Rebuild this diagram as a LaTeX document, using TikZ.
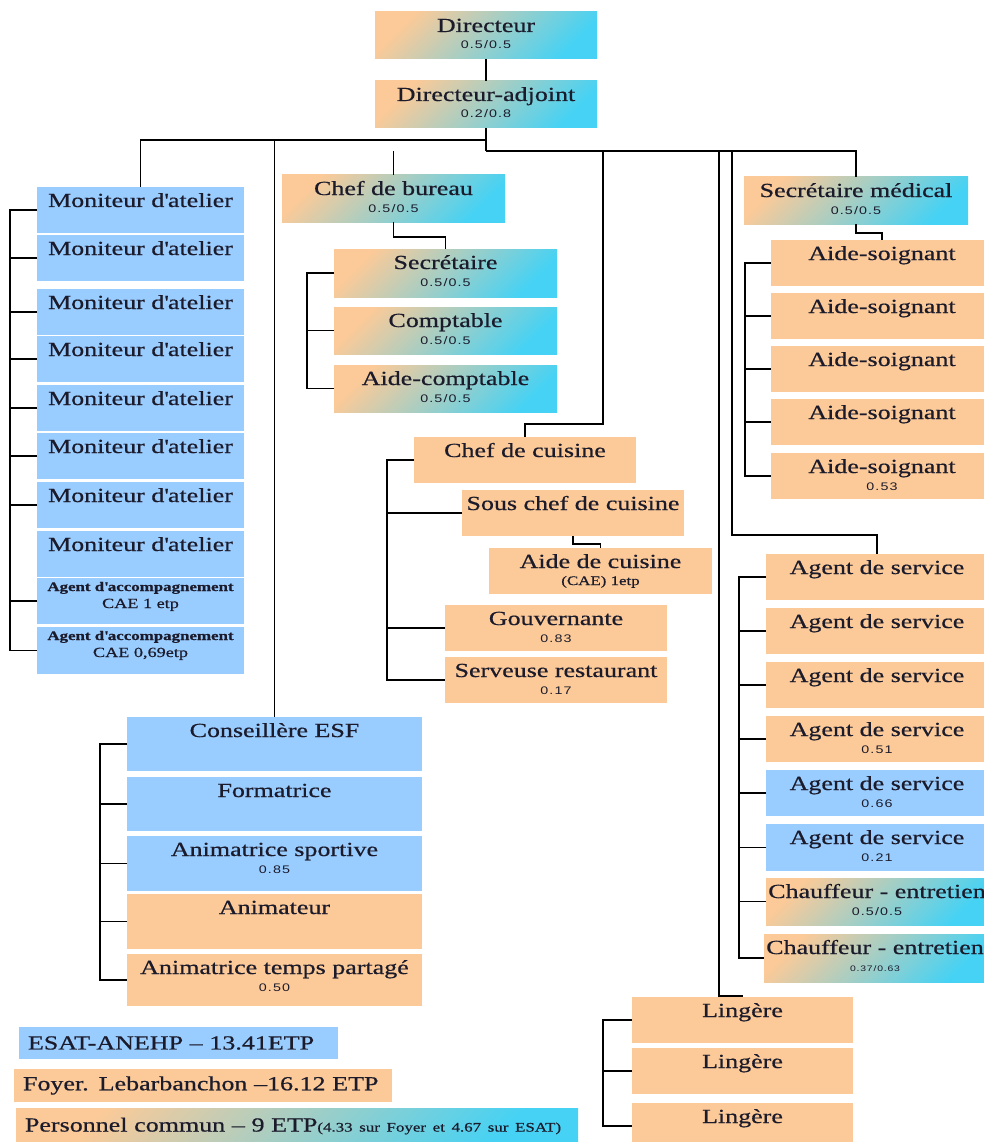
\documentclass[tikz,border=0pt]{standalone}
\usepackage{fontspec}
\setmainfont{Liberation Serif}[FakeStretch=1.3,FakeBold=0.6]
\newfontfamily\chiffres{Liberation Sans}[FakeStretch=1.3,LetterSpace=10]

\definecolor{bleuclair}{HTML}{99CCFF}
\definecolor{peche}{HTML}{FCCA98}
\definecolor{cyanvif}{HTML}{46D2F4}
\definecolor{encre}{HTML}{1B1B2B}

% une case de l'organigramme : style, nom, coin haut-gauche, largeur, hauteur, titre, quotite
\newcommand{\poste}[7]{%
    \node[poste,#1,minimum width=#4,minimum height=#5] (#2) at (#3) {};
    \node[titre] (#2-t) at ([yshift=-20pt]#2.north) {#6};
    \if\relax\detokenize{#7}\relax\else
        \node[chiffre] (#2-n) at ([yshift=-37pt]#2.north) {#7};
    \fi
}

\begin{document}
\begin{tikzpicture}[x=1pt,y=-1pt,
    poste/.style={anchor=north west,inner sep=0pt,outer sep=0pt},
    cbleu/.style={fill=bleuclair},
    cpeche/.style={fill=peche},
    cdegrade/.style={top color=peche,bottom color=cyanvif,shading angle=45},
    titre/.style={anchor=base,inner sep=0pt,text=encre,font=\fontsize{20}{22}\selectfont},
    chiffre/.style={anchor=base,inner sep=0pt,text=encre,font=\chiffres\fontsize{11}{13}\selectfont},
    legende/.style={anchor=north west,inner xsep=9pt,inner ysep=0pt,outer sep=0pt,align=left,
        text=encre,font=\fontsize{20}{22}\selectfont},
    trait/.style={draw=black,line width=1.2pt}]
    \useasboundingbox (0,0) rectangle (984,1142);

    % direction
    \poste{cdegrade}{dir}{375,12}{222}{47}{Directeur}{0.5/0.5}
    \poste{cdegrade}{adj}{375,81}{222}{47}{Directeur-adjoint}{0.2/0.8}

    % ateliers
    \foreach \i/\y in {1/187,2/235,3/289,4/336,5/385,6/433,7/482,8/531}{
        \poste{cbleu}{m\i}{37,\y}{207}{46}{Moniteur d\textquotesingle atelier}{}
    }
    \node[poste,cbleu,minimum width=207,minimum height=46] (acc1) at (37,578) {};
    \node[titre,font=\bfseries\fontsize{13}{15}\selectfont] (acc1-t) at ([yshift=-13pt]acc1.north) {Agent d\textquotesingle accompagnement};
    \node[titre,font=\fontsize{14}{16}\selectfont] (acc1-n) at ([yshift=-30pt]acc1.north) {CAE 1 etp};
    \node[poste,cbleu,minimum width=207,minimum height=47] (acc2) at (37,627) {};
    \node[titre,font=\bfseries\fontsize{13}{15}\selectfont] (acc2-t) at ([yshift=-13pt]acc2.north) {Agent d\textquotesingle accompagnement};
    \node[titre,font=\fontsize{14}{16}\selectfont] (acc2-n) at ([yshift=-30pt]acc2.north) {CAE 0,69etp};

    % bureau
    \poste{cdegrade}{bur}{282,175}{223}{47}{Chef de bureau}{0.5/0.5}
    \poste{cdegrade}{secr}{334,249}{223}{48}{Secrétaire}{0.5/0.5}
    \poste{cdegrade}{compt}{334,307}{223}{47}{Comptable}{0.5/0.5}
    \poste{cdegrade}{aidec}{334,365}{223}{47}{Aide-comptable}{0.5/0.5}

    % cuisine
    \poste{cpeche}{cuis}{414,437}{222}{46}{Chef de cuisine}{}
    \poste{cpeche}{scuis}{462,490}{222}{46}{Sous chef de cuisine}{}
    \poste{cpeche}{acuis}{489,548}{223}{46}{Aide de cuisine}{\normalfont\fontsize{13}{15}\selectfont (CAE) 1etp}
    \poste{cpeche}{gouv}{445,605}{222}{46}{Gouvernante}{0.83}
    \poste{cpeche}{serv}{445,657}{222}{46}{Serveuse restaurant}{0.17}

    % medical
    \poste{cdegrade}{med}{744,177}{224}{47}{Secrétaire médical}{0.5/0.5}
    \foreach \i/\y in {1/240,2/293,3/346,4/399}{
        \poste{cpeche}{soin\i}{771,\y}{222}{46}{Aide-soignant}{}
    }
    \poste{cpeche}{soin5}{771,453}{222}{46}{Aide-soignant}{0.53}

    % services
    \foreach \i/\y in {1/554,2/608,3/662}{
        \poste{cpeche}{agt\i}{766,\y}{222}{46}{Agent de service}{}
    }
    \poste{cpeche}{agt4}{766,716}{222}{46}{Agent de service}{0.51}
    \poste{cbleu}{agt5}{766,770}{222}{46}{Agent de service}{0.66}
    \poste{cbleu}{agt6}{766,824}{222}{47}{Agent de service}{0.21}
    \poste{cdegrade}{chauf1}{766,878}{222}{47}{Chauffeur - entretien}{0.5/0.5}
    \poste{cdegrade}{chauf2}{764,934}{222}{48}{Chauffeur - entretien}{\fontsize{8}{10}\selectfont 0.37/0.63}

    % lingerie
    \foreach \i/\y in {1/997,2/1048,3/1103}{
        \poste{cpeche}{ling\i}{632,\y}{221}{46}{Lingère}{}
    }

    % animation
    \poste{cbleu}{cesf}{127,717}{295}{54}{Conseillère ESF}{}
    \poste{cbleu}{form}{127,777}{295}{54}{Formatrice}{}
    \poste{cbleu}{anims}{127,836}{295}{55}{Animatrice sportive}{0.85}
    \poste{cpeche}{anim}{127,894}{295}{55}{Animateur}{}
    \poste{cpeche}{animtp}{127,954}{295}{52}{Animatrice temps partagé}{0.50}

    % legende
    \node[legende,cbleu,text width=301,minimum height=32] (lg-esat) at (19,1027) {ESAT-ANEHP -- 13.41ETP};
    \node[legende,cpeche,text width=360,minimum height=33] (lg-foyer) at (14,1069) {Foyer. Lebarbanchon --16.12 ETP};
    \node[legende,cdegrade,text width=544,minimum height=36] (lg-commun) at (16,1108)
        {Personnel commun -- 9 ETP{\fontsize{13}{15}\selectfont(4.33 sur Foyer et 4.67 sur ESAT)}};

    % liaisons
    \coordinate (j1) at (486,140);
    \coordinate (j2) at (486,151);
    \coordinate (cuisc) at (603,424);
    \coordinate (lingc) at (719,996);
    \coordinate (servc) at (732,535);
    \draw[trait] (dir.south) -- (adj.north);
    \draw[trait] (adj.south) -- (j2);
    \draw[trait] (m1.north) |- (j1);
    \draw[trait] (j2) -| (med.north);
    \draw[trait] (cesf.north) -- (cesf.north |- j1);
    \draw[trait] (bur.north) -- (bur.north |- j2);
    \draw[trait] (cuisc |- j2) -- (cuisc) -| (cuis.north);
    \draw[trait] (servc |- j2) -- (servc) -| (agt1.north);
    \draw[trait] (lingc |- j2) -- (lingc) -| (ling1.north);
    \draw[trait] (bur.south) -- ++(0,15) -| (secr.north);
    \draw[trait] (scuis.south) -- ++(0,8) -| (acuis.north);
    \draw[trait] (med.south) -- ++(0,9) -| (soin1.north);

    % accolades
    \coordinate (gm) at (10,0);
    \draw[trait] (m1.west) -| (acc2.west -| gm) -- (acc2.west);
    \foreach \n in {m2,m3,m4,m5,m6,m7,acc1}
        \draw[trait] (\n.west) -- (\n.west -| gm);
    \coordinate (gb) at (307,0);
    \draw[trait] (secr.west) -| (aidec.west -| gb) -- (aidec.west);
    \draw[trait] (compt.west) -- (compt.west -| gb);
    \coordinate (gc) at (387,0);
    \draw[trait] (cuis.west) -| (serv.west -| gc) -- (serv.west);
    \foreach \n in {scuis,gouv}
        \draw[trait] (\n.west) -- (\n.west -| gc);
    \coordinate (gs) at (745,0);
    \draw[trait] (soin1.west) -| (soin5.west -| gs) -- (soin5.west);
    \foreach \n in {soin2,soin3,soin4}
        \draw[trait] (\n.west) -- (\n.west -| gs);
    \coordinate (ga) at (739,0);
    \draw[trait] (agt1.west) -| (chauf2.west -| ga) -- (chauf2.west);
    \foreach \n in {agt2,agt3,agt4,agt5,agt6,chauf1}
        \draw[trait] (\n.west) -- (\n.west -| ga);
    \coordinate (gl) at (603,0);
    \draw[trait] (ling1.west) -| (ling3.west -| gl) -- (ling3.west);
    \draw[trait] (ling2.west) -- (ling2.west -| gl);
    \coordinate (gf) at (100,0);
    \draw[trait] (cesf.west) -| (animtp.west -| gf) -- (animtp.west);
    \foreach \n in {form,anims,anim}
        \draw[trait] (\n.west) -- (\n.west -| gf);
\end{tikzpicture}
\end{document}
